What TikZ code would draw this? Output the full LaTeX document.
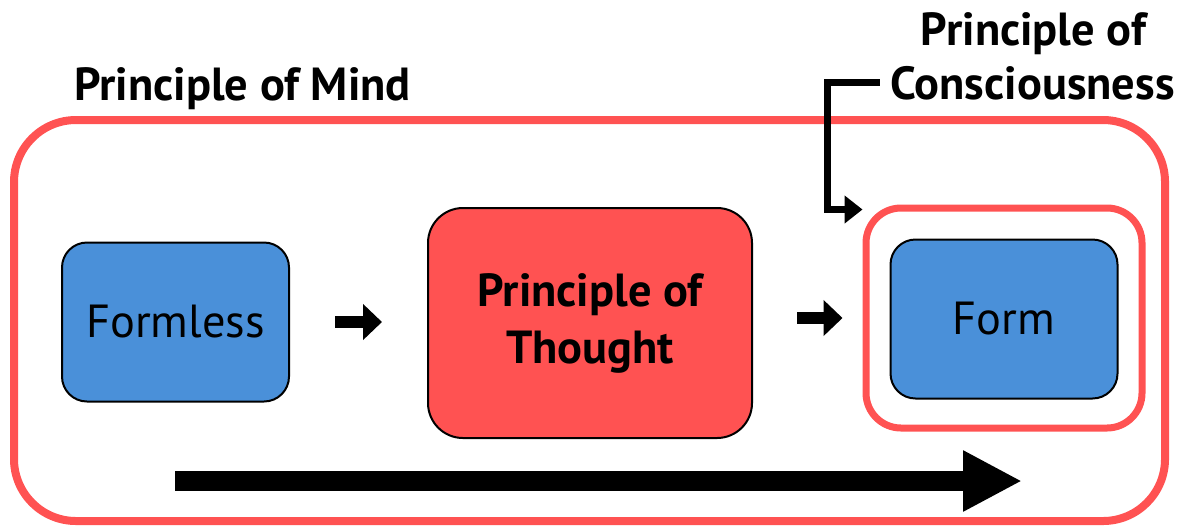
\documentclass[tikz,border=0pt]{standalone}
\usepackage{fontspec}
\setmainfont{PT Sans}
\usetikzlibrary{arrows.meta}
\definecolor{mindred}{HTML}{FF5252}
\definecolor{formblue}{HTML}{4A90D9}

\begin{document}
\begin{tikzpicture}[
    bluebox/.style={draw=black, line width=0.02cm, fill=formblue, rounded corners=0.25cm,
        minimum width=2.27cm, minimum height=1.59cm, inner sep=0pt, font=\fontsize{13.2}{15.6}\selectfont},
    headline/.style={inner sep=0.1cm, font=\bfseries\fontsize{13.2}{16.2}\selectfont},
    flowarrow/.style={line width=0.12cm, -{Triangle[length=0.19cm, width=0.35cm]}},
]
    \useasboundingbox (0,0) rectangle (11.79,-5.25);

    \node[draw=mindred, line width=0.08cm, rounded corners=0.62cm, minimum width=11.51cm, minimum height=4.01cm] (mind) at (5.895,-3.205) {};
    \node[headline, anchor=base west] (mindlabel) at (0.635,-1.00) {Principle of Mind};

    \node[bluebox] (formless) at (1.755,-3.22) {Formless};
    \node[draw=black, line width=0.02cm, fill=mindred, rounded corners=0.35cm, minimum width=3.24cm, minimum height=2.30cm,
        align=center, headline] (thought) at (5.90,-3.23) {Principle of\\Thought};
    \node[draw=mindred, line width=0.07cm, rounded corners=0.35cm, minimum width=2.76cm, minimum height=2.20cm] (cons) at (10.04,-3.18) {};
    \node[bluebox] (form) at (10.04,-3.19) {Form};

    \node[headline, anchor=base] (conslabel2) at (10.325,-0.99) {Consciousness};
    \node[headline, anchor=base] (conslabel1) at (10.335,-0.45) {Principle of};

    \draw[flowarrow, shorten <=0.45cm, shorten >=0.45cm] (formless.east) -- (formless.east -| thought.west);
    \draw[flowarrow, shorten <=0.44cm, shorten >=0.20cm] (thought.east |- cons.west) -- (cons.west);
    \draw[line width=0.07cm, -{Triangle[length=0.18cm, width=0.27cm]}] (conslabel2.west) -- ++(-0.52,0) |- ([yshift=-0.05cm]cons.north west);

    \coordinate (flowstart) at (1.75,-4.81);
    \coordinate (flowend) at (10.22,-4.81);
    \draw[line width=0.20cm, -{Triangle[length=0.59cm, width=0.57cm]}] (flowstart) -- (flowend);
\end{tikzpicture}
\end{document}
